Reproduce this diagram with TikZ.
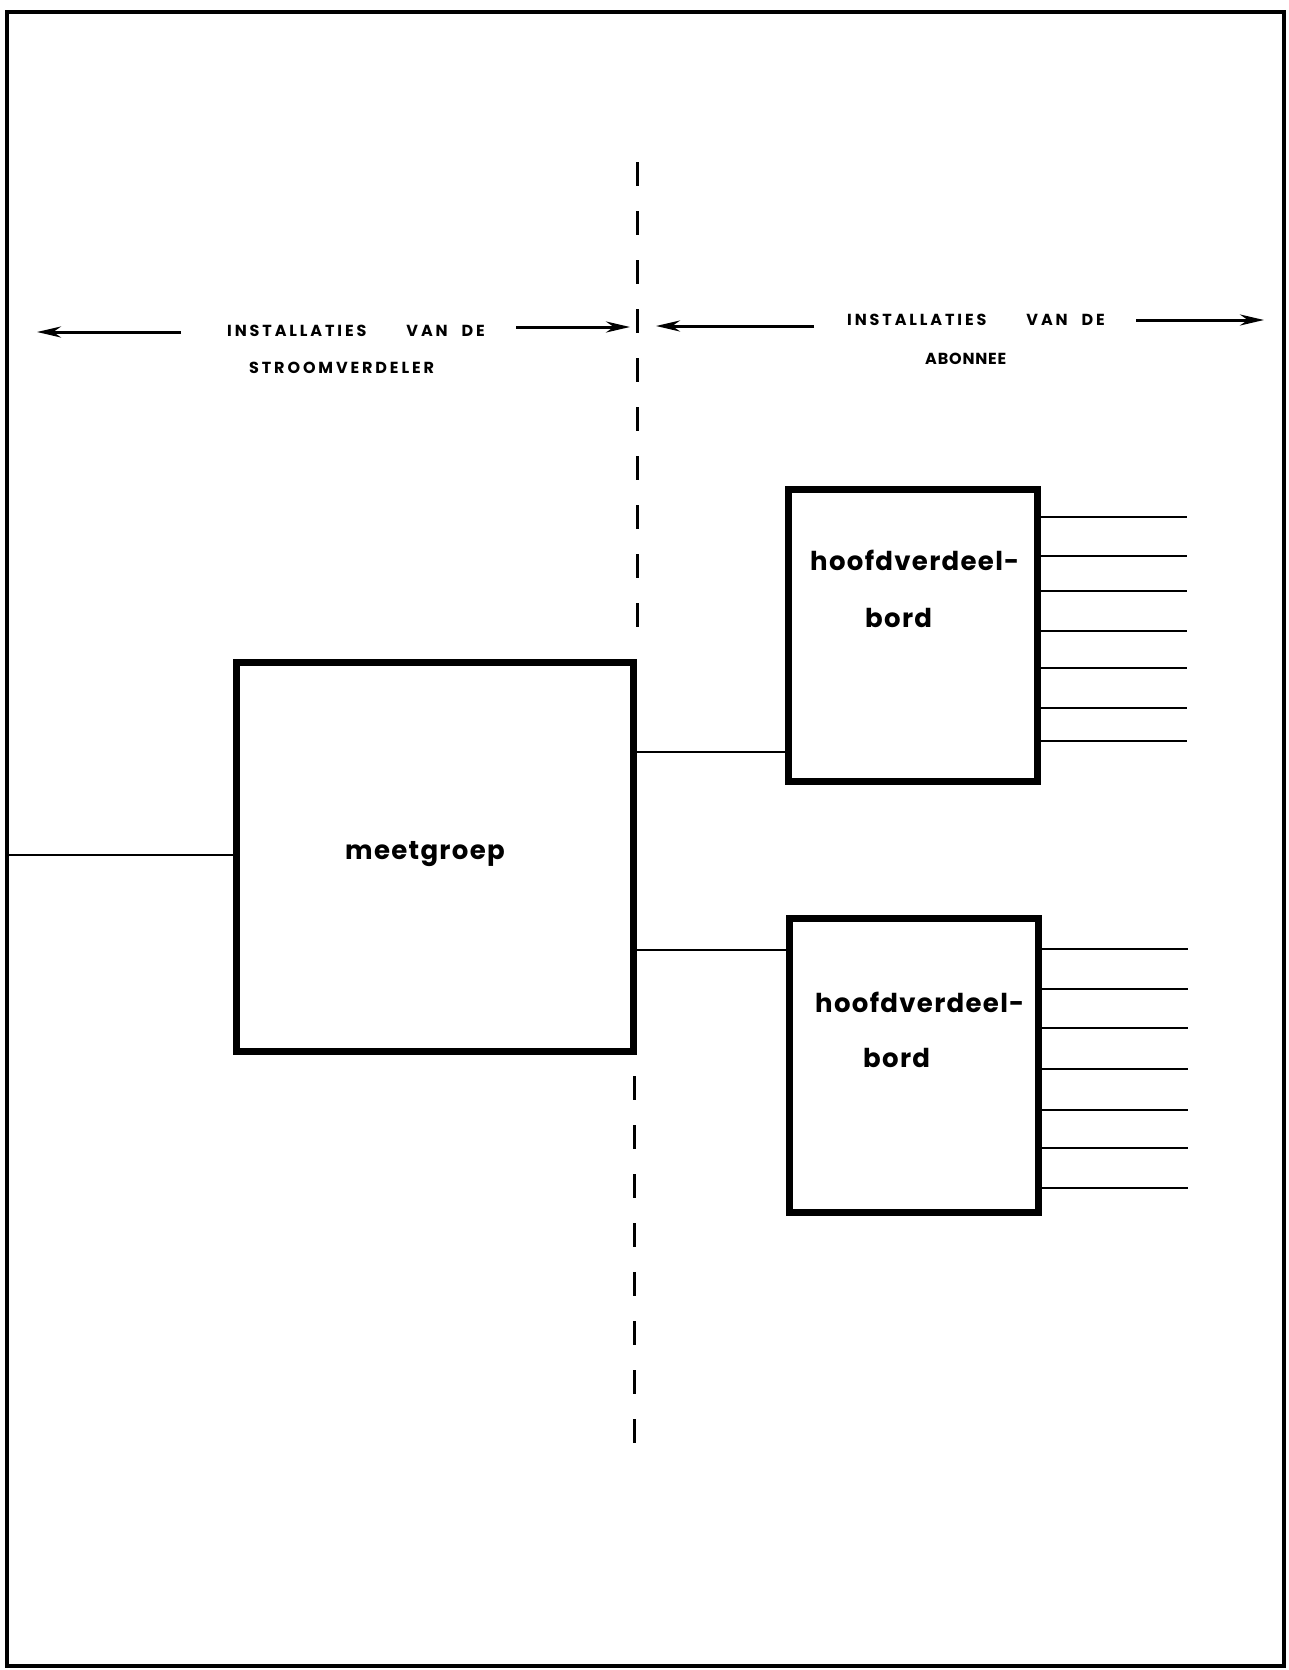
\documentclass[tikz,border=0pt]{standalone}
\usepackage{fontspec}
\setmainfont{Poppins}
\newfontfamily\boxfont{Poppins}[LetterSpace=5]
\newfontfamily\capfont{Poppins}[LetterSpace=18]
\newfontfamily\tightcapfont{Poppins}[LetterSpace=5]
\usetikzlibrary{arrows.meta}
\begin{document}
\begin{tikzpicture}[x=1pt,y=-1pt,
  heavybox/.style={draw, line width=7pt, inner sep=0pt},
  boxtext/.style={inner sep=0pt, anchor=base west, font=\boxfont\bfseries\fontsize{26}{30}\selectfont},
  captext/.style={inner sep=0pt, anchor=west, font=\capfont\bfseries\fontsize{16}{18}\selectfont},
  tightcaptext/.style={inner sep=0pt, anchor=west, font=\tightcapfont\bfseries\fontsize{16}{18}\selectfont},
  wire/.style={line width=2pt},
  outwire/.style={line width=2.8pt},
  spanarrow/.style={line width=3pt, -{Stealth[length=24pt,width=11pt]}},
  divider/.style={line width=3pt, dash pattern=on 24pt off 25pt}]
\useasboundingbox (0,0) rectangle (1288,1670);
% frame
\draw[line width=3.5pt] (7,12) rectangle (1284,1666);

% boxes
\node[heavybox, minimum width=397pt, minimum height=389pt] (meet) at (434.5,856.5) {};
\node[heavybox, minimum width=249pt, minimum height=292pt] (b1) at (912.5,635) {};
\node[heavybox, minimum width=249pt, minimum height=294pt] (b2) at (914,1065) {};

% texts in boxes
\node[boxtext] (tmeet) at (345,859) {meetgroep};
\node[boxtext] (tb1a) at (810,570) {hoofdverdeel-};
\node[boxtext] (tb1b) at (865,627) {bord};
\node[boxtext] (tb2a) at (815,1012) {hoofdverdeel-};
\node[boxtext] (tb2b) at (863,1067) {bord};

% divider
\coordinate (d1) at (637,162);
\coordinate (d2) at (637,630);
\coordinate (d3) at (634,1076);
\coordinate (d4) at (634,1452);
\draw[divider] (d1) -- (d2);
\draw[divider] (d3) -- (d4);

% input
\coordinate (in) at (7,855);
\draw[wire] (in) -- (meet.west |- in);

% connections
\coordinate (r1) at (0,752);
\coordinate (r2) at (0,950);
\draw[wire] (meet.east |- r1) -- (b1.west |- r1);
\draw[wire] (meet.east |- r2) -- (b2.west |- r2);

% outputs
\foreach \y [count=\i] in {517,556,591,631,668,708,741} {
  \coordinate (oa\i) at (1187,\y);
  \draw[outwire] (b1.east |- oa\i) -- (oa\i);
}
\foreach \y [count=\i] in {949,989,1028,1069,1110,1148,1188} {
  \coordinate (ob\i) at (1188,\y);
  \draw[outwire] (b2.east |- ob\i) -- (ob\i);
}

% labels
\node[captext] (l1) at (227,331) {INSTALLATIES\hspace{40pt}VAN\hspace{14pt}DE};
\node[captext] (l2) at (249,368) {STROOMVERDELER};
\node[captext] (r1t) at (847,320) {INSTALLATIES\hspace{40pt}VAN\hspace{14pt}DE};
\node[tightcaptext] (r2t) at (925,359) {ABONNEE};

% span arrows
\coordinate (a1s) at (181,332);
\coordinate (a1e) at (37,332);
\coordinate (a2s) at (516,327);
\coordinate (a2e) at (630,327);
\coordinate (a3s) at (814,326);
\coordinate (a3e) at (656,326);
\coordinate (a4s) at (1136,320);
\coordinate (a4e) at (1264,320);
\draw[spanarrow] (a1s) -- (a1e);
\draw[spanarrow] (a2s) -- (a2e);
\draw[spanarrow] (a3s) -- (a3e);
\draw[spanarrow] (a4s) -- (a4e);
\end{tikzpicture}
\end{document}
